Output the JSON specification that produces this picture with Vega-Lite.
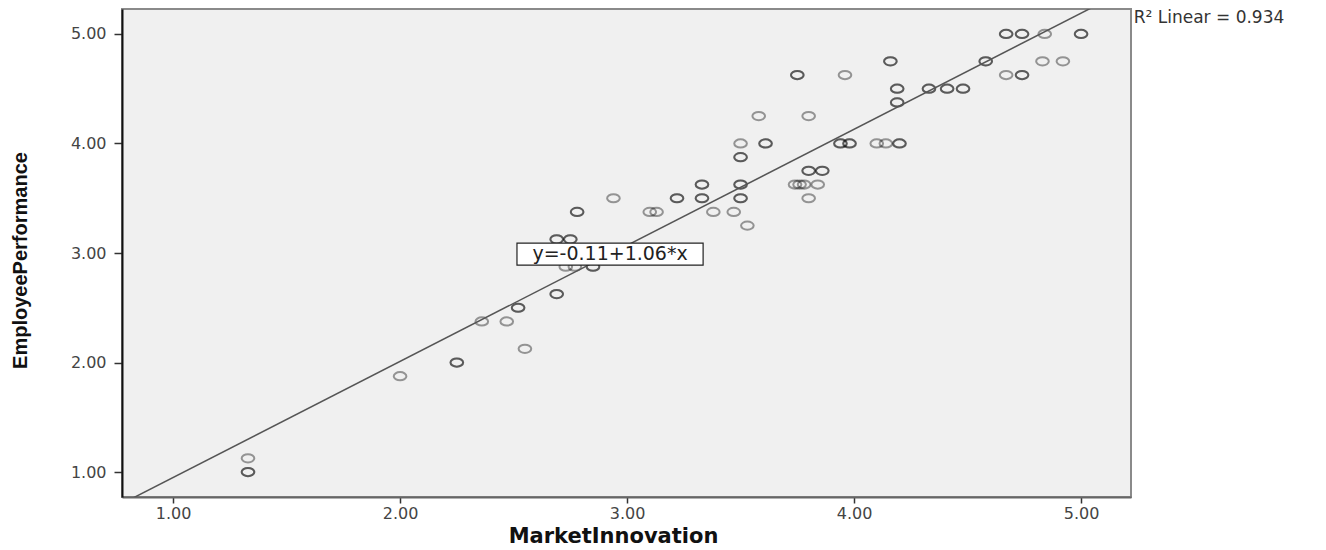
{
  "$schema": "https://vega.github.io/schema/vega-lite/v6.json",
  "autosize": "none",
  "width": 1009,
  "height": 488,
  "padding": {"left": 122, "top": 9, "right": 195, "bottom": 53},
  "background": "white",
  "config": {
    "view": {"fill": "#f0f0f0", "stroke": "#8a8a8a", "strokeWidth": 2},
    "font": "DejaVu Sans"
  },
  "datasets": {
    "pts": [
      {"x": 1.33, "y": 1.0}, {"x": 1.33, "y": 1.0}, {"x": 1.33, "y": 1.125},
      {"x": 2.0, "y": 1.875},
      {"x": 2.25, "y": 2.0}, {"x": 2.25, "y": 2.0},
      {"x": 2.36, "y": 2.375}, {"x": 2.47, "y": 2.375},
      {"x": 2.52, "y": 2.5}, {"x": 2.52, "y": 2.5},
      {"x": 2.55, "y": 2.125},
      {"x": 2.69, "y": 2.625}, {"x": 2.69, "y": 2.625},
      {"x": 2.69, "y": 3.125}, {"x": 2.69, "y": 3.125},
      {"x": 2.75, "y": 3.125}, {"x": 2.75, "y": 3.125},
      {"x": 2.73, "y": 2.875}, {"x": 2.77, "y": 2.875},
      {"x": 2.85, "y": 2.875}, {"x": 2.85, "y": 2.875},
      {"x": 2.78, "y": 3.375}, {"x": 2.78, "y": 3.375},
      {"x": 2.94, "y": 3.5},
      {"x": 3.1, "y": 3.375}, {"x": 3.13, "y": 3.375},
      {"x": 3.22, "y": 3.5}, {"x": 3.22, "y": 3.5},
      {"x": 3.33, "y": 3.625}, {"x": 3.33, "y": 3.625},
      {"x": 3.33, "y": 3.5}, {"x": 3.33, "y": 3.5},
      {"x": 3.38, "y": 3.375}, {"x": 3.47, "y": 3.375},
      {"x": 3.5, "y": 3.625}, {"x": 3.5, "y": 3.625},
      {"x": 3.5, "y": 3.875}, {"x": 3.5, "y": 3.875},
      {"x": 3.5, "y": 4.0},
      {"x": 3.5, "y": 3.5}, {"x": 3.5, "y": 3.5},
      {"x": 3.53, "y": 3.25},
      {"x": 3.58, "y": 4.25},
      {"x": 3.61, "y": 4.0}, {"x": 3.61, "y": 4.0},
      {"x": 3.75, "y": 4.625}, {"x": 3.75, "y": 4.625},
      {"x": 3.8, "y": 4.25},
      {"x": 3.74, "y": 3.625}, {"x": 3.76, "y": 3.625}, {"x": 3.78, "y": 3.625}, {"x": 3.84, "y": 3.625},
      {"x": 3.8, "y": 3.75}, {"x": 3.8, "y": 3.75},
      {"x": 3.86, "y": 3.75}, {"x": 3.86, "y": 3.75},
      {"x": 3.8, "y": 3.5},
      {"x": 3.96, "y": 4.625},
      {"x": 3.94, "y": 4.0}, {"x": 3.94, "y": 4.0},
      {"x": 3.98, "y": 4.0}, {"x": 3.98, "y": 4.0},
      {"x": 4.1, "y": 4.0}, {"x": 4.14, "y": 4.0},
      {"x": 4.2, "y": 4.0}, {"x": 4.2, "y": 4.0},
      {"x": 4.16, "y": 4.75}, {"x": 4.16, "y": 4.75},
      {"x": 4.19, "y": 4.5}, {"x": 4.19, "y": 4.5},
      {"x": 4.19, "y": 4.375}, {"x": 4.19, "y": 4.375},
      {"x": 4.33, "y": 4.5}, {"x": 4.33, "y": 4.5},
      {"x": 4.41, "y": 4.5}, {"x": 4.41, "y": 4.5},
      {"x": 4.48, "y": 4.5}, {"x": 4.48, "y": 4.5},
      {"x": 4.58, "y": 4.75}, {"x": 4.58, "y": 4.75},
      {"x": 4.67, "y": 4.625},
      {"x": 4.74, "y": 4.625}, {"x": 4.74, "y": 4.625},
      {"x": 4.83, "y": 4.75}, {"x": 4.92, "y": 4.75},
      {"x": 4.67, "y": 5.0}, {"x": 4.67, "y": 5.0},
      {"x": 4.74, "y": 5.0}, {"x": 4.74, "y": 5.0},
      {"x": 4.84, "y": 5.0},
      {"x": 5.0, "y": 5.0}, {"x": 5.0, "y": 5.0}
    ],
    "fit": [
      {"x": 0.7, "y": 0.632},
      {"x": 5.2, "y": 5.402}
    ],
    "box": [
      {"x": 2.515, "x2": 3.335, "y": 2.89, "y2": 3.091, "cx": 2.925, "cy": 2.99, "label": "y=-0.11+1.06*x"}
    ],
    "r2": [
      {"x": 5.232, "y": 5.145, "label": "R² Linear = 0.934"}
    ]
  },
  "layer": [
    {
      "data": {"name": "pts"},
      "mark": {
        "type": "point",
        "shape": "M -1 0 A 1 0.65 0 1 0 1 0 A 1 0.65 0 1 0 -1 0 Z",
        "size": 160,
        "filled": false,
        "stroke": "#000000",
        "strokeOpacity": 0.55,
        "strokeWidth": 2
      },
      "encoding": {
        "x": {
          "field": "x", "type": "quantitative",
          "scale": {"domain": [0.775, 5.22], "nice": false, "zero": false},
          "axis": {
            "values": [1, 2, 3, 4, 5], "format": ".2f", "grid": false,
            "title": "MarketInnovation",
            "titleFont": "DejaVu Sans", "titleFontSize": 21, "titleFontWeight": "bold", "titleColor": "#111",
            "titleX": 491, "titleY": 28, "titleBaseline": "top", "titleAlign": "center",
            "labelFont": "DejaVu Sans", "labelFontSize": 16, "labelColor": "#444",
            "tickSize": 6, "tickColor": "#333", "tickWidth": 1.5, "labelPadding": 2,
            "domainColor": "#666", "domainWidth": 2
          }
        },
        "y": {
          "field": "y", "type": "quantitative",
          "scale": {"domain": [0.772, 5.228], "nice": false, "zero": false},
          "axis": {
            "values": [1, 2, 3, 4, 5], "format": ".2f", "grid": false,
            "title": "EmployeePerformance",
            "titleFont": "Liberation Sans", "titleFontSize": 20, "titleFontWeight": "bold", "titleColor": "#111",
            "titleX": -102, "titleY": 251, "titleBaseline": "middle", "titleAlign": "center", "titleAngle": -90,
            "labelFont": "DejaVu Sans", "labelFontSize": 16, "labelColor": "#444",
            "tickSize": 8, "tickColor": "#333", "tickWidth": 1.5, "labelPadding": 8,
            "domainColor": "#111", "domainWidth": 2
          }
        }
      }
    },
    {
      "data": {"name": "fit"},
      "mark": {"type": "line", "color": "#555", "strokeWidth": 1.5, "clip": true},
      "encoding": {
        "x": {"field": "x", "type": "quantitative"},
        "y": {"field": "y", "type": "quantitative"}
      }
    },
    {
      "data": {"name": "box"},
      "mark": {"type": "rect", "fill": "white", "stroke": "#222", "strokeWidth": 1.2},
      "encoding": {
        "x": {"field": "x", "type": "quantitative"},
        "x2": {"field": "x2"},
        "y": {"field": "y", "type": "quantitative"},
        "y2": {"field": "y2"}
      }
    },
    {
      "data": {"name": "box"},
      "mark": {"type": "text", "font": "DejaVu Sans", "fontSize": 19, "color": "#222", "align": "center", "baseline": "middle"},
      "encoding": {
        "x": {"field": "cx", "type": "quantitative"},
        "y": {"field": "cy", "type": "quantitative"},
        "text": {"field": "label"}
      }
    },
    {
      "data": {"name": "r2"},
      "mark": {"type": "text", "font": "DejaVu Sans", "fontSize": 17, "color": "#333", "align": "left", "baseline": "middle"},
      "encoding": {
        "x": {"field": "x", "type": "quantitative"},
        "y": {"field": "y", "type": "quantitative"},
        "text": {"field": "label"}
      }
    }
  ]
}
